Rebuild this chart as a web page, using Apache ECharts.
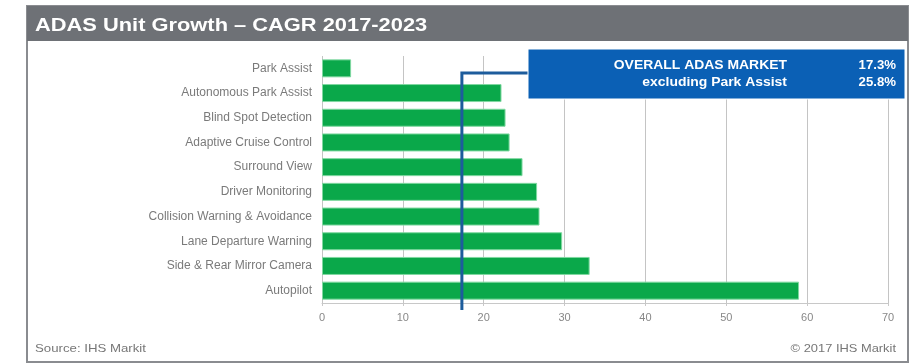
<!DOCTYPE html>
<html>
<head>
<meta charset="utf-8">
<script src="https://cdn.jsdelivr.net/npm/echarts@6/dist/echarts.min.js"></script>
<style>
  html, body { margin: 0; padding: 0; background: #ffffff; }
  #chart { width: 920px; height: 363px; }
</style>
</head>
<body>
<div id="chart"></div>
<script>
// ADAS feature categories, top to bottom
const categories = [
  'Park Assist',
  'Autonomous Park Assist',
  'Blind Spot Detection',
  'Adaptive Cruise Control',
  'Surround View',
  'Driver Monitoring',
  'Collision Warning & Avoidance',
  'Lane Departure Warning',
  'Side & Rear Mirror Camera',
  'Autopilot'
];
// CAGR 2017-2023, percent
const cagrValues = [3.6, 22.2, 22.7, 23.2, 24.8, 26.6, 26.9, 29.7, 33.1, 59.0];
// Market-wide figures shown in the callout
const overallMarket = 17.3;
const excludingParkAssist = 25.8;
const xTicks = [0, 10, 20, 30, 40, 50, 60, 70];

const FONT = '"Liberation Sans", Arial, sans-serif';
const chart = echarts.init(document.getElementById('chart'), null, { renderer: 'canvas' });

const option = {
  backgroundColor: '#ffffff',
  animation: false,
  grid: { left: 322, right: 32, top: 56, bottom: 60, containLabel: false },
  xAxis: {
    type: 'value',
    min: xTicks[0],
    max: xTicks[xTicks.length - 1],
    interval: 10,
    axisLine: { show: true, lineStyle: { color: '#c8c8c8', width: 1 } },
    axisTick: { show: true, length: 3, lineStyle: { color: '#c8c8c8' } },
    axisLabel: { color: '#888888', fontFamily: FONT, fontSize: 11, margin: 9 },
    splitLine: { show: true, lineStyle: { color: '#c4c4c4', width: 1 } }
  },
  yAxis: {
    type: 'category',
    data: categories,
    inverse: true,
    axisLine: { show: false },
    axisTick: { show: false },
    axisLabel: { color: '#7a7a7a', fontFamily: FONT, fontSize: 12, margin: 10 }
  },
  series: [{
    type: 'bar',
    data: cagrValues,
    barWidth: 18,
    itemStyle: { color: '#0aa84a', borderColor: '#7fd8a0', borderWidth: 1 },
    z: 3
  }]
};
chart.setOption(option);

// Frame, title bar, footer and the overall-market callout (positioned from the axis scale)
const xLine = chart.convertToPixel({ xAxisIndex: 0 }, overallMarket);
const boxX = 528, boxY = 49, boxW = 377, boxH = 50;
const calloutFont = 'bold 12px ' + FONT;
chart.setOption({
  graphic: [
    { id: 'frame', type: 'rect', z: -10, silent: true,
      shape: { x: 27, y: 6, width: 881, height: 356 },
      style: { fill: '#ffffff', stroke: '#8a8c90', lineWidth: 2 } },
    { id: 'titleBar', type: 'rect', z: -9, silent: true,
      shape: { x: 27, y: 6, width: 881, height: 35 },
      style: { fill: '#6e7176' } },
    { id: 'title', type: 'text', z: 5, silent: true, x: 35, y: 16, scaleX: 1.15,
      style: { text: 'ADAS Unit Growth \u2013 CAGR 2017-2023', fill: '#ffffff',
        font: 'bold 19px ' + FONT } },
    { id: 'source', type: 'text', x: 35, y: 343, silent: true, scaleX: 1.15,
      style: { text: 'Source: IHS Markit', fill: '#777777', font: '11.5px ' + FONT } },
    { id: 'copyright', type: 'text', x: 896, y: 343, silent: true, scaleX: 1.12,
      style: { text: '\u00a9 2017 IHS Markit', fill: '#777777', align: 'right', font: '11.5px ' + FONT } },
    { id: 'marketLine', type: 'polyline', z: 20, silent: true,
      shape: { points: [[boxX, 73], [xLine, 73], [xLine, 310]] },
      style: { stroke: '#1d5c9c', lineWidth: 3, fill: null } },
    { id: 'calloutBox', type: 'rect', z: 21, silent: true,
      shape: { x: boxX, y: boxY, width: boxW, height: boxH },
      style: { fill: '#0b60b5', stroke: '#ffffff', lineWidth: 1 } },
    { id: 'lbl1', type: 'text', z: 22, silent: true, x: 787, y: 60, scaleX: 1.16,
      style: { text: 'OVERALL ADAS MARKET', fill: '#ffffff', align: 'right', font: calloutFont } },
    { id: 'lbl2', type: 'text', z: 22, silent: true, x: 787, y: 77, scaleX: 1.16,
      style: { text: 'excluding Park Assist', fill: '#ffffff', align: 'right', font: calloutFont } },
    { id: 'val1', type: 'text', z: 22, silent: true, x: 896, y: 60, scaleX: 1.1,
      style: { text: overallMarket.toFixed(1) + '%', fill: '#ffffff', align: 'right', font: calloutFont } },
    { id: 'val2', type: 'text', z: 22, silent: true, x: 896, y: 77, scaleX: 1.1,
      style: { text: excludingParkAssist.toFixed(1) + '%', fill: '#ffffff', align: 'right', font: calloutFont } }
  ]
});
</script>
</body>
</html>
